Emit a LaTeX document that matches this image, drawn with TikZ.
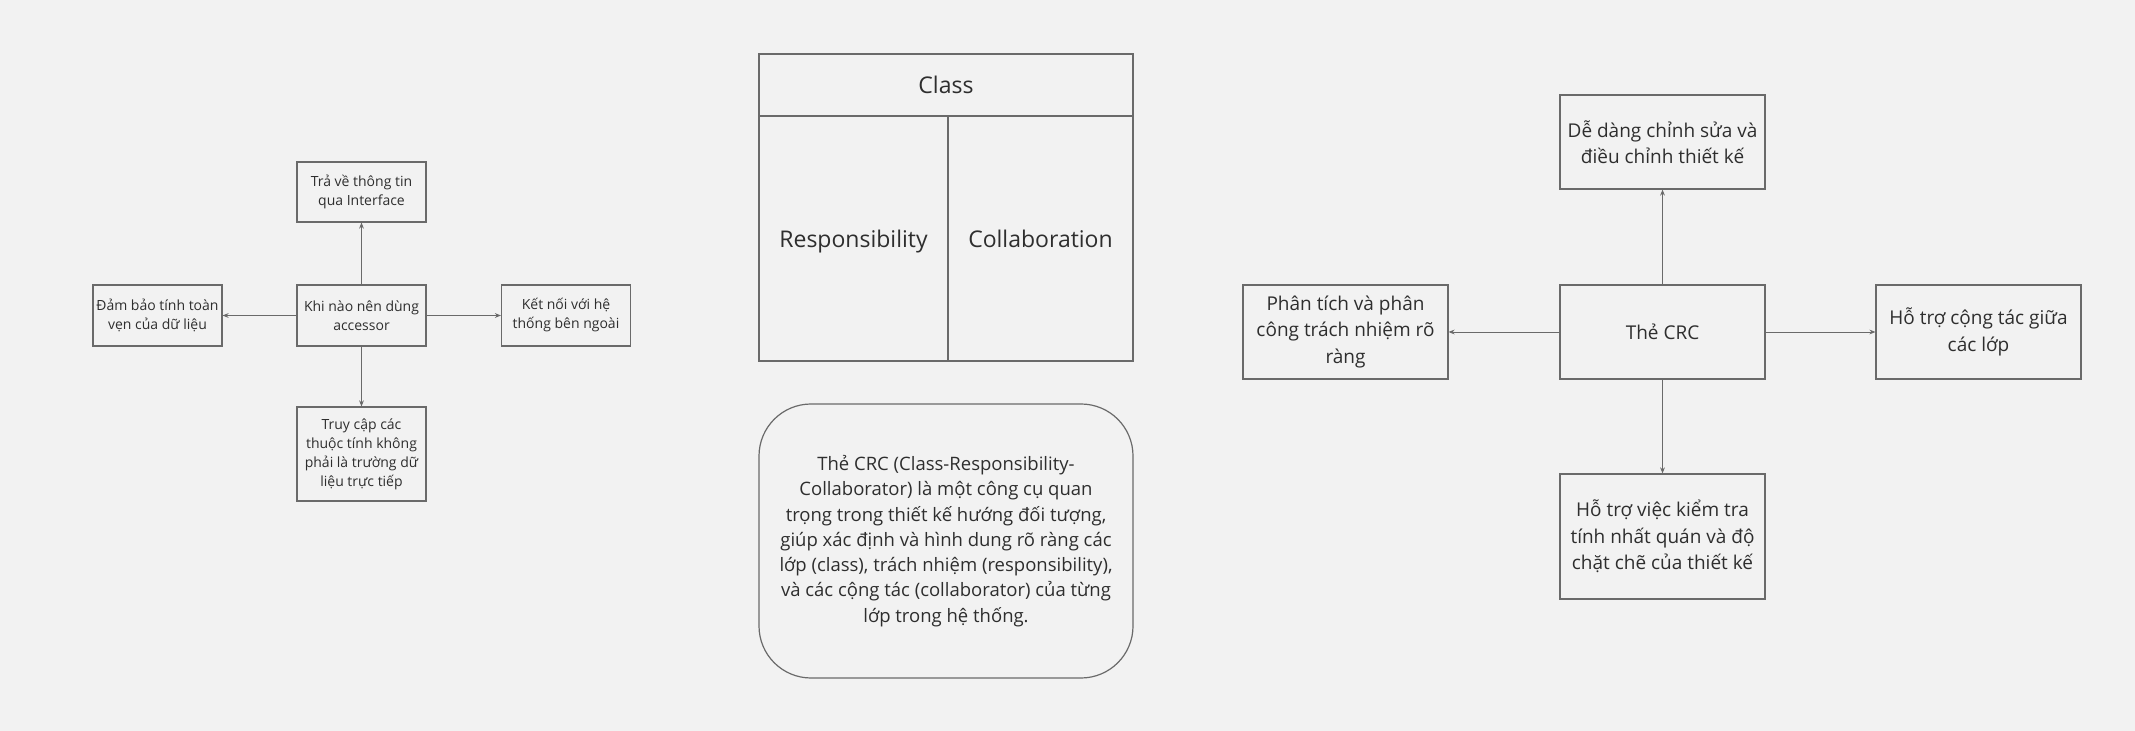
\documentclass[tikz,border=0pt]{standalone}
\usepackage{fontspec}
\setmainfont{Open Sans}
\usetikzlibrary{arrows.meta}
\definecolor{bg}{HTML}{F2F2F2}
\definecolor{edge}{HTML}{6A6A6A}
\definecolor{ink}{HTML}{2E2E2E}
\tikzset{
  box/.style={draw=edge, line width=0.6pt, fill=bg, inner sep=0pt, align=center, text=ink},
  smallbox/.style={box, minimum width=64.5pt, font=\fontsize{7}{9.5}\selectfont},
  bigbox/.style={box, minimum width=102.5pt, font=\fontsize{9.5}{13.2}\selectfont},
  cardtext/.style={font=\fontsize{11.5}{14}\selectfont, text height=10pt, text depth=1.2pt},
  conn/.style={draw=edge, line width=0.45pt, -{Stealth[length=3pt,width=2.4pt]}},
}
\begin{document}
\begin{tikzpicture}[x=0.5pt,y=-0.5pt]
\path[fill=bg, use as bounding box] (0,0) rectangle (2135,731);

% left group
\node[smallbox, minimum height=30.5pt] (la) at (361.5,315.5) {Khi nào nên dùng\\accessor};
\node[smallbox, minimum height=30pt] (lt) at (361.5,192) {Trả về thông tin\\qua Interface};
\node[smallbox, minimum height=30.5pt] (ll) at (157.5,315.5) {Đảm bảo tính toàn\\vẹn của dữ liệu};
\node[smallbox, minimum height=30.5pt] (lr) at (566,315.5) {Kết nối với hệ\\thống bên ngoài};
\node[smallbox, minimum height=47pt] (lb) at (361.5,454) {Truy cập các\\thuộc tính không\\phải là trường dữ\\liệu trực tiếp};
\draw[conn] (la.north) -- (lt.south);
\draw[conn] (la.west) -- (ll.east);
\draw[conn] (la.east) -- (lr.west);
\draw[conn] (la.south) -- (lb.north);

% CRC card
\node[box, cardtext, minimum width=187pt, minimum height=31pt] (cls) at (946,85) {Class};
\node[box, cardtext, minimum width=94.5pt, minimum height=122.5pt] (resp) at (853.5,238.5) {Responsibility};
\node[box, cardtext, minimum width=92.5pt, minimum height=122.5pt] (coll) at (1040.5,238.5) {Collaboration};

\node[box, rounded corners=26pt, minimum width=187pt, minimum height=137pt, font=\fontsize{9.25}{12.65}\selectfont] (desc) at (946,541)
{Thẻ CRC (Class-Responsibility-\\Collaborator) là một công cụ quan\\trọng trong thiết kế hướng đối tượng,\\giúp xác định và hình dung rõ ràng các\\lớp (class), trách nhiệm (responsibility),\\và các cộng tác (collaborator) của từng\\lớp trong hệ thống.};

% right group
\node[bigbox, minimum height=47pt] (rc) at (1662.5,332) {Thẻ CRC};
\node[bigbox, minimum height=47pt] (rt) at (1662.5,142) {Dễ dàng chỉnh sửa và\\điều chỉnh thiết kế};
\node[bigbox, minimum height=47pt] (rl) at (1345.5,332) {Phân tích và phân\\công trách nhiệm rõ\\ràng};
\node[bigbox, minimum height=47pt] (rr) at (1978.5,332) {Hỗ trợ cộng tác giữa\\các lớp};
\node[bigbox, minimum height=62.5pt] (rb) at (1662.5,536.5) {Hỗ trợ việc kiểm tra\\tính nhất quán và độ\\chặt chẽ của thiết kế};
\draw[conn] (rc.north) -- (rt.south);
\draw[conn] (rc.west) -- (rl.east);
\draw[conn] (rc.east) -- (rr.west);
\draw[conn] (rc.south) -- (rb.north);
\end{tikzpicture}
\end{document}
